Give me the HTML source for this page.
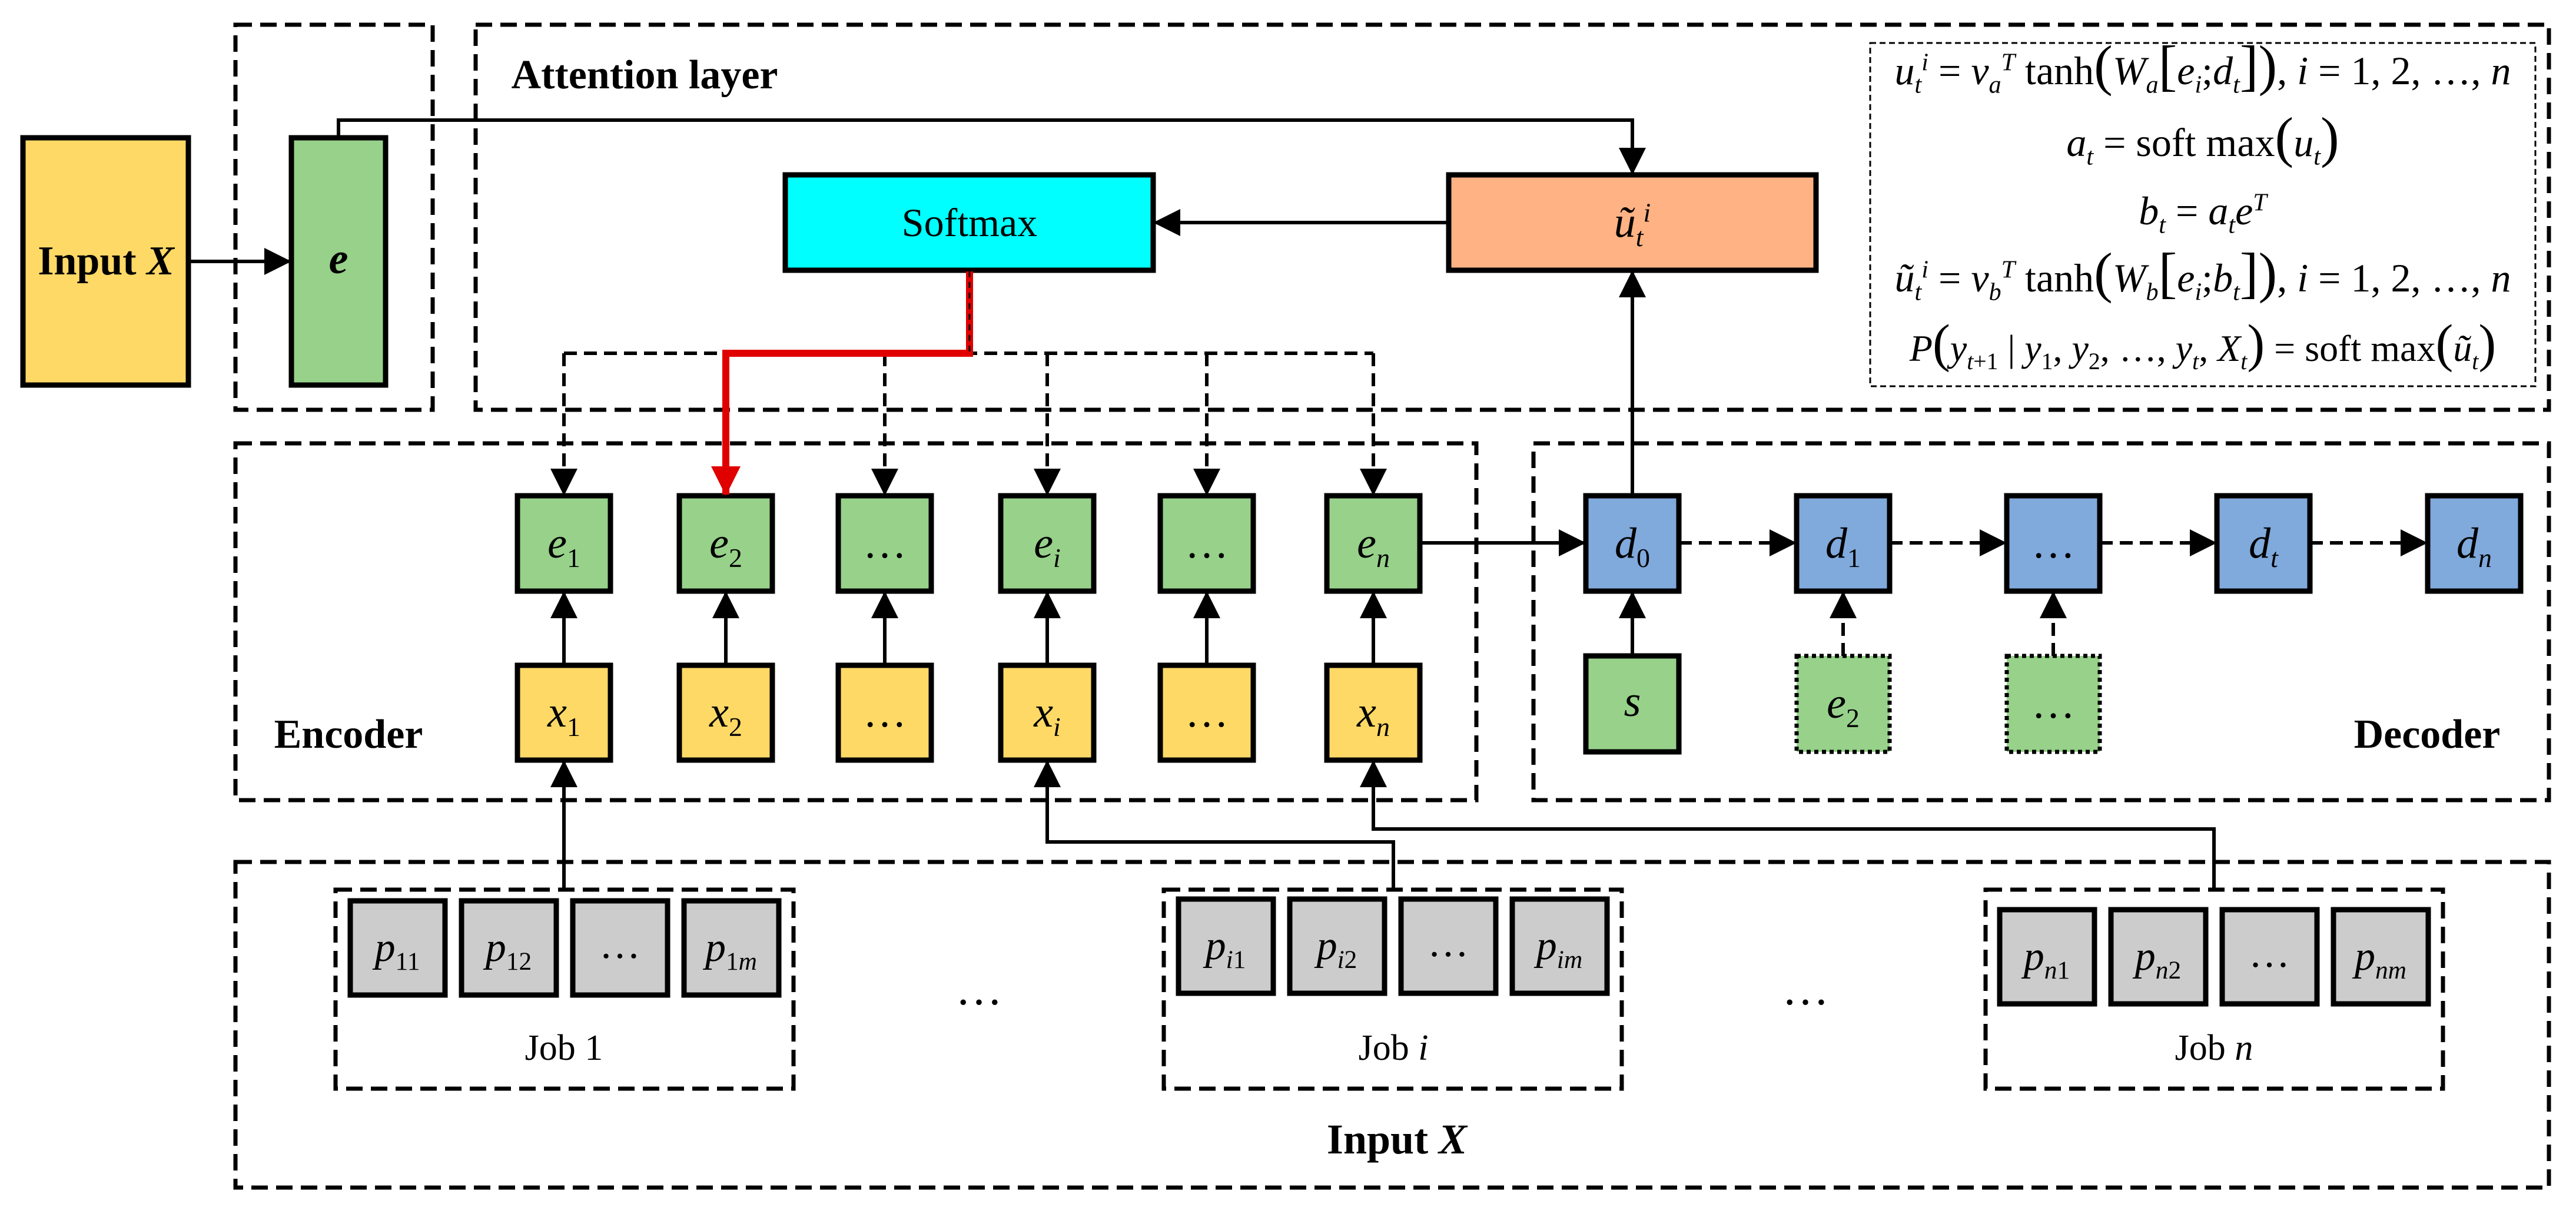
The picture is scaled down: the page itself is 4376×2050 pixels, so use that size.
<!DOCTYPE html>
<html><head><meta charset="utf-8"><style>
html,body{margin:0;padding:0;background:#fff}
#c{position:relative;width:4376px;height:2050px;overflow:hidden;font-family:"Liberation Serif",serif;color:#000}
svg{position:absolute;left:0;top:0}
.t{position:absolute;white-space:nowrap;transform:translate(-50%,-50%);line-height:1}
.b{font-weight:bold}
i{font-style:italic}
sub,sup{font-size:0.62em;line-height:0}
.lbl{font-size:74px}
.p{font-size:70px}
.f{font-size:68px}
.big{font-size:1.4em;line-height:0;font-style:normal}
</style></head><body><div id="c">
<svg width="4376" height="2050" viewBox="0 0 4376 2050">
<defs>
<marker id="a" markerUnits="userSpaceOnUse" markerWidth="46" markerHeight="46" refX="44" refY="23" orient="auto"><path d="M0,0 L46,23 L0,46 z" fill="#000"/></marker>
<marker id="r" markerUnits="userSpaceOnUse" markerWidth="50" markerHeight="50" refX="48" refY="25" orient="auto"><path d="M0,0 L50,25 L0,50 z" fill="#e00000"/></marker>
</defs>
<g fill="none" stroke="#000" stroke-width="7" stroke-dasharray="28 14">
<rect x="400" y="42" width="335" height="654"/>
<rect x="808" y="42" width="3522" height="654"/>
<rect x="400" y="753" width="2108" height="606"/>
<rect x="2605" y="753" width="1725" height="606"/>
<rect x="400" y="1464" width="3930" height="553"/>
<rect x="570" y="1511" width="778" height="338"/>
<rect x="1977" y="1511" width="778" height="338"/>
<rect x="3373" y="1511" width="777" height="338"/>
</g>
<rect x="3177" y="73" width="1130" height="583" fill="none" stroke="#000" stroke-width="3" stroke-dasharray="10 6"/>
<g stroke="#000" stroke-width="9">
<rect x="39" y="234" width="281" height="420" fill="#FFD966"/>
<rect x="495" y="234" width="160" height="420" fill="#97D18A"/>
<rect x="1334" y="297" width="625" height="162" fill="#00FFFF"/>
<rect x="2461" y="297" width="624" height="162" fill="#FFB283"/>
</g>
<g stroke="#000" stroke-width="9" fill="#97D18A">
<rect x="879" y="842" width="158" height="162"/>
<rect x="1154" y="842" width="158" height="162"/>
<rect x="1424" y="842" width="158" height="162"/>
<rect x="1700" y="842" width="158" height="162"/>
<rect x="1971" y="842" width="158" height="162"/>
<rect x="2254" y="842" width="158" height="162"/>
<rect x="2694" y="1114" width="158" height="163"/>
</g>
<g stroke="#000" stroke-width="9" fill="#FFD966">
<rect x="879" y="1130" width="158" height="161"/>
<rect x="1154" y="1130" width="158" height="161"/>
<rect x="1424" y="1130" width="158" height="161"/>
<rect x="1700" y="1130" width="158" height="161"/>
<rect x="1971" y="1130" width="158" height="161"/>
<rect x="2254" y="1130" width="158" height="161"/>
</g>
<g stroke="#000" stroke-width="9" fill="#80A9DC">
<rect x="2694" y="842" width="158" height="162"/>
<rect x="3052" y="842" width="158" height="162"/>
<rect x="3409" y="842" width="158" height="162"/>
<rect x="3766" y="842" width="158" height="162"/>
<rect x="4124" y="842" width="158" height="162"/>
</g>
<g stroke="#000" stroke-width="7" stroke-dasharray="7 6" fill="#97D18A">
<rect x="3052" y="1114" width="158" height="163"/>
<rect x="3409" y="1114" width="158" height="163"/>
</g>
<g stroke="#000" stroke-width="9" fill="#CCCCCC">
<rect x="595" y="1530" width="161" height="160"/>
<rect x="784" y="1530" width="161" height="160"/>
<rect x="973" y="1530" width="161" height="160"/>
<rect x="1162" y="1530" width="161" height="160"/>
<rect x="2002" y="1527" width="161" height="160"/>
<rect x="2191" y="1527" width="161" height="160"/>
<rect x="2380" y="1527" width="161" height="160"/>
<rect x="2569" y="1527" width="161" height="160"/>
<rect x="3397" y="1545" width="161" height="160"/>
<rect x="3586" y="1545" width="161" height="160"/>
<rect x="3775" y="1545" width="161" height="160"/>
<rect x="3964" y="1545" width="161" height="160"/>
</g>
<g fill="none" stroke="#000" stroke-width="6">
<path d="M320,444 H493" marker-end="url(#a)"/>
<path d="M575,234 V204 H2773 V295" marker-end="url(#a)"/>
<path d="M2461,378 H1961" marker-end="url(#a)"/>
<path d="M2773,842 V461" marker-end="url(#a)"/>
<path d="M958,1130 V1006" marker-end="url(#a)"/>
<path d="M1233,1130 V1006" marker-end="url(#a)"/>
<path d="M1503,1130 V1006" marker-end="url(#a)"/>
<path d="M1779,1130 V1006" marker-end="url(#a)"/>
<path d="M2050,1130 V1006" marker-end="url(#a)"/>
<path d="M2333,1130 V1006" marker-end="url(#a)"/>
<path d="M2412,922 H2692" marker-end="url(#a)"/>
<path d="M2773,1114 V1006" marker-end="url(#a)"/>
<path d="M958,1511 V1293" marker-end="url(#a)"/>
<path d="M2367,1511 V1430 H1779 V1293" marker-end="url(#a)"/>
<path d="M3761,1511 V1408 H2333 V1293" marker-end="url(#a)"/>
</g>
<g fill="none" stroke="#000" stroke-width="6" stroke-dasharray="22 12">
<path d="M958,600 H2333"/>
<path d="M958,600 V840" marker-end="url(#a)"/>
<path d="M1503,600 V840" marker-end="url(#a)"/>
<path d="M1779,600 V840" marker-end="url(#a)"/>
<path d="M2050,600 V840" marker-end="url(#a)"/>
<path d="M2333,600 V840" marker-end="url(#a)"/>
<path d="M2852,922 H3050" marker-end="url(#a)"/>
<path d="M3210,922 H3407" marker-end="url(#a)"/>
<path d="M3567,922 H3764" marker-end="url(#a)"/>
<path d="M3924,922 H4122" marker-end="url(#a)"/>
<path d="M3131,1114 V1006" marker-end="url(#a)"/>
<path d="M3488,1114 V1006" marker-end="url(#a)"/>
</g>
<path d="M1647,461 V600 H1233 V840" fill="none" stroke="#e00000" stroke-width="12" marker-end="url(#r)"/>
<path d="M1647,461 V600" fill="none" stroke="#000" stroke-width="3" stroke-dasharray="10 8"/>
</svg>

<div class="t b" style="left:1095px;top:128px;font-size:70px">Attention layer</div>
<div class="t b" style="left:180px;top:444px;font-size:70px">Input <i>X</i></div>
<div class="t b" style="left:575px;top:440px;font-size:74px"><i>e</i></div>
<div class="t" style="left:1647px;top:378px;font-size:68px">Softmax</div>
<div class="t lbl" style="left:2773px;top:378px"><i>ũ</i><sub><i>t</i></sub><sup><i>i</i></sup></div>

<div class="t lbl" style="left:958px;top:923px"><i>e</i><sub>1</sub></div>
<div class="t lbl" style="left:1233px;top:923px"><i>e</i><sub>2</sub></div>
<div class="t lbl" style="left:1503px;top:923px">…</div>
<div class="t lbl" style="left:1779px;top:923px"><i>e</i><sub><i>i</i></sub></div>
<div class="t lbl" style="left:2050px;top:923px">…</div>
<div class="t lbl" style="left:2333px;top:923px"><i>e</i><sub><i>n</i></sub></div>

<div class="t lbl" style="left:958px;top:1210px"><i>x</i><sub>1</sub></div>
<div class="t lbl" style="left:1233px;top:1210px"><i>x</i><sub>2</sub></div>
<div class="t lbl" style="left:1503px;top:1210px">…</div>
<div class="t lbl" style="left:1779px;top:1210px"><i>x</i><sub><i>i</i></sub></div>
<div class="t lbl" style="left:2050px;top:1210px">…</div>
<div class="t lbl" style="left:2333px;top:1210px"><i>x</i><sub><i>n</i></sub></div>

<div class="t lbl" style="left:2773px;top:923px"><i>d</i><sub>0</sub></div>
<div class="t lbl" style="left:3131px;top:923px"><i>d</i><sub>1</sub></div>
<div class="t lbl" style="left:3488px;top:923px">…</div>
<div class="t lbl" style="left:3845px;top:923px"><i>d</i><sub><i>t</i></sub></div>
<div class="t lbl" style="left:4203px;top:923px"><i>d</i><sub><i>n</i></sub></div>
<div class="t lbl" style="left:2773px;top:1192px"><i>s</i></div>
<div class="t lbl" style="left:3131px;top:1195px"><i>e</i><sub>2</sub></div>
<div class="t lbl" style="left:3488px;top:1195px">…</div>

<div class="t b" style="left:592px;top:1248px;font-size:70px">Encoder</div>
<div class="t b" style="left:4123px;top:1248px;font-size:70px">Decoder</div>

<div class="t p" style="left:675px;top:1610px"><i>p</i><sub>11</sub></div>
<div class="t p" style="left:864px;top:1610px"><i>p</i><sub>12</sub></div>
<div class="t p" style="left:1053px;top:1605px">…</div>
<div class="t p" style="left:1242px;top:1610px"><i>p</i><sub>1<i>m</i></sub></div>
<div class="t p" style="left:2082px;top:1607px"><i>p</i><sub><i>i</i>1</sub></div>
<div class="t p" style="left:2271px;top:1607px"><i>p</i><sub><i>i</i>2</sub></div>
<div class="t p" style="left:2460px;top:1602px">…</div>
<div class="t p" style="left:2649px;top:1607px"><i>p</i><sub><i>im</i></sub></div>
<div class="t p" style="left:3477px;top:1625px"><i>p</i><sub><i>n</i>1</sub></div>
<div class="t p" style="left:3666px;top:1625px"><i>p</i><sub><i>n</i>2</sub></div>
<div class="t p" style="left:3855px;top:1620px">…</div>
<div class="t p" style="left:4044px;top:1625px"><i>p</i><sub><i>nm</i></sub></div>

<div class="t" style="left:958px;top:1780px;font-size:62px">Job 1</div>
<div class="t" style="left:2367px;top:1780px;font-size:62px">Job <i>i</i></div>
<div class="t" style="left:3761px;top:1780px;font-size:62px">Job <i>n</i></div>
<div class="t" style="left:1663px;top:1680px;font-size:80px">…</div>
<div class="t" style="left:3067px;top:1680px;font-size:80px">…</div>
<div class="t b" style="left:2373px;top:1935px;font-size:72px">Input <i>X</i></div>

<div class="t f" style="left:3742px;top:120px"><i>u</i><sub><i>t</i></sub><sup><i>i</i></sup> = <i>v</i><sub><i>a</i></sub><sup><i>T</i></sup> tanh<span class="big">(</span><i>W</i><sub><i>a</i></sub><span class="big">[</span><i>e</i><sub><i>i</i></sub>;<i>d</i><sub><i>t</i></sub><span class="big">]</span><span class="big">)</span>, <i>i</i> = 1, 2, …, <i>n</i></div>
<div class="t f" style="left:3742px;top:242px"><i>a</i><sub><i>t</i></sub> = soft max<span class="big">(</span><i>u</i><sub><i>t</i></sub><span class="big">)</span></div>
<div class="t f" style="left:3742px;top:358px"><i>b</i><sub><i>t</i></sub> = <i>a</i><sub><i>t</i></sub><i>e</i><sup><i>T</i></sup></div>
<div class="t f" style="left:3742px;top:472px"><i>ũ</i><sub><i>t</i></sub><sup><i>i</i></sup> = <i>v</i><sub><i>b</i></sub><sup><i>T</i></sup> tanh<span class="big">(</span><i>W</i><sub><i>b</i></sub><span class="big">[</span><i>e</i><sub><i>i</i></sub>;<i>b</i><sub><i>t</i></sub><span class="big">]</span><span class="big">)</span>, <i>i</i> = 1, 2, …, <i>n</i></div>
<div class="t f" style="left:3742px;top:592px;font-size:64px"><i>P</i><span class="big">(</span><i>y</i><sub><i>t</i>+1</sub> | <i>y</i><sub>1</sub>, <i>y</i><sub>2</sub>, …, <i>y</i><sub><i>t</i></sub>, <i>X</i><sub><i>t</i></sub><span class="big">)</span> = soft max<span class="big">(</span><i>ũ</i><sub><i>t</i></sub><span class="big">)</span></div>
</div></body></html>
